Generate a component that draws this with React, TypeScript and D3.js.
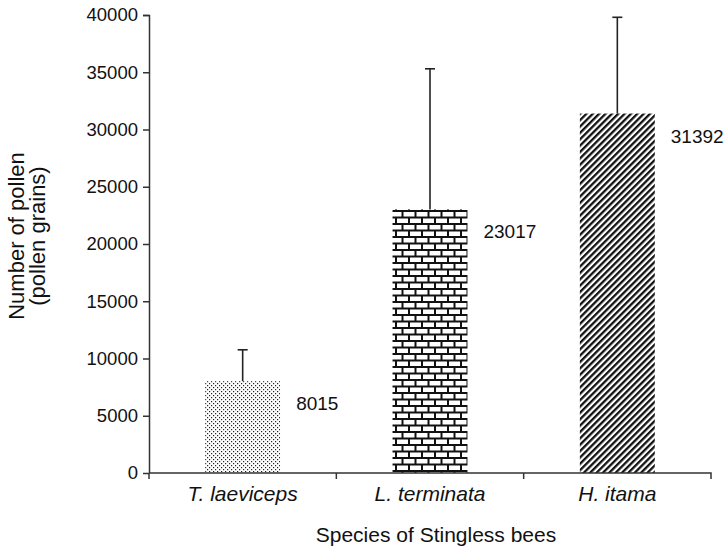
import React, { useEffect, useRef } from "react";
import * as d3 from "d3";

const species = ["T. laeviceps", "L. terminata", "H. itama"];
const pollenMeans = [8015, 23017, 31392];
const pollenUpper = [10760, 35300, 39800];
const patternIds = ["dots", "bricks", "stripes"];
const yTicks = [0, 5000, 10000, 15000, 20000, 25000, 30000, 35000, 40000];

const App: React.FC = () => {
  const svgRef = useRef<SVGSVGElement>(null);

  useEffect(() => {
    if (!svgRef.current) return;
    const W = 726;
    const H = 548;
    const margin = { top: 15, right: 15, bottom: 75, left: 149 };
    const width = W - margin.left - margin.right;
    const height = H - margin.top - margin.bottom;

    const root = d3.select(svgRef.current).attr("width", W).attr("height", H);
    root.selectAll("*").remove();

    // fill patterns
    const defs = root.append("defs");
    const dots = defs
      .append("pattern")
      .attr("id", "dots")
      .attr("patternUnits", "userSpaceOnUse")
      .attr("width", 4)
      .attr("height", 4);
    dots.append("rect").attr("width", 4).attr("height", 4).attr("fill", "#fff");
    dots.append("rect").attr("x", 0).attr("y", 0).attr("width", 1.2).attr("height", 1.2).attr("fill", "#222");
    dots.append("rect").attr("x", 2).attr("y", 2).attr("width", 1.2).attr("height", 1.2).attr("fill", "#222");

    const bricks = defs
      .append("pattern")
      .attr("id", "bricks")
      .attr("patternUnits", "userSpaceOnUse")
      .attr("width", 13)
      .attr("height", 13);
    bricks.append("rect").attr("width", 13).attr("height", 13).attr("fill", "#fff");
    bricks
      .append("path")
      .attr("d", "M0,1 H13 M0,7.5 H13 M6.5,1 V7.5 M0,7.5 V13 M13,7.5 V13")
      .attr("stroke", "#111")
      .attr("stroke-width", 2)
      .attr("fill", "none");

    const stripes = defs
      .append("pattern")
      .attr("id", "stripes")
      .attr("patternUnits", "userSpaceOnUse")
      .attr("width", 4.5)
      .attr("height", 4.5)
      .attr("patternTransform", "rotate(45)");
    stripes.append("rect").attr("width", 4.5).attr("height", 4.5).attr("fill", "#fff");
    stripes.append("rect").attr("x", 0).attr("y", 0).attr("width", 2.3).attr("height", 4.5).attr("fill", "#111");

    const svg = root.append("g").attr("transform", `translate(${margin.left},${margin.top})`);

    const x = d3.scaleBand().domain(species).range([0, width]).paddingInner(0).paddingOuter(0);
    const y = d3.scaleLinear().domain([0, 40000]).range([height, 0]);
    const barW = x.bandwidth() * 0.4;

    const font = "'Liberation Sans', Arial, sans-serif";

    // bars
    svg
      .selectAll("rect.bar")
      .data(species)
      .enter()
      .append("rect")
      .attr("class", "bar")
      .attr("x", (d) => (x(d) || 0) + x.bandwidth() / 2 - barW / 2)
      .attr("y", (d, i) => y(pollenMeans[i]))
      .attr("width", barW)
      .attr("height", (d, i) => height - y(pollenMeans[i]))
      .attr("fill", (d, i) => `url(#${patternIds[i]})`);

    // error bars
    const err = svg.append("g").attr("stroke", "#222").attr("stroke-width", 1.6);
    species.forEach((d, i) => {
      const cx = (x(d) || 0) + x.bandwidth() / 2;
      err.append("line").attr("x1", cx).attr("x2", cx).attr("y1", y(pollenMeans[i])).attr("y2", y(pollenUpper[i]));
      err.append("line").attr("x1", cx - 5).attr("x2", cx + 5).attr("y1", y(pollenUpper[i])).attr("y2", y(pollenUpper[i]));
    });

    // value labels
    svg
      .selectAll("text.val")
      .data(species)
      .enter()
      .append("text")
      .attr("class", "val")
      .attr("x", (d) => (x(d) || 0) + x.bandwidth() / 2 + barW / 2 + 16)
      .attr("y", (d, i) => y(pollenMeans[i]) + 29)
      .attr("font-family", font)
      .attr("font-size", 19)
      .attr("fill", "#111")
      .text((d, i) => String(pollenMeans[i]));

    // y axis
    const yAxis = svg
      .append("g")
      .call(d3.axisLeft(y).tickValues(yTicks).tickSize(6).tickPadding(5).tickFormat((v) => String(v)));
    yAxis.select(".domain").attr("d", `M-6,0.5H0.5V${height}`);
    yAxis.selectAll("text").attr("font-family", font).attr("font-size", 18.5).attr("fill", "#111");
    yAxis.selectAll("line, path").attr("stroke", "#333").attr("stroke-width", 1.5);

    // x axis
    const xAxis = svg
      .append("g")
      .attr("transform", `translate(0,${height})`)
      .call(d3.axisBottom(x).tickSize(0).tickPadding(13));
    xAxis.select(".domain").attr("d", `M0,0H${width}V6`);
    xAxis.selectAll("text").attr("font-family", font).attr("font-size", 21).attr("font-style", "italic").attr("fill", "#111");
    xAxis.selectAll("path").attr("stroke", "#333").attr("stroke-width", 1.5);
    xAxis
      .selectAll("line.sep")
      .data(species)
      .enter()
      .append("line")
      .attr("class", "sep")
      .attr("x1", (d) => x(d) || 0)
      .attr("x2", (d) => x(d) || 0)
      .attr("y1", 0)
      .attr("y2", 6)
      .attr("stroke", "#333")
      .attr("stroke-width", 1.5);

    // axis titles
    root
      .append("text")
      .attr("x", 436)
      .attr("y", 542)
      .attr("text-anchor", "middle")
      .attr("font-family", font)
      .attr("font-size", 21)
      .attr("fill", "#111")
      .text("Species of Stingless bees");

    const yTitle = root
      .append("text")
      .attr("transform", `translate(0,236) rotate(-90)`)
      .attr("text-anchor", "middle")
      .attr("font-family", font)
      .attr("font-size", 22)
      .attr("fill", "#111");
    yTitle.append("tspan").attr("x", 0).attr("y", 24).text("Number of pollen");
    yTitle.append("tspan").attr("x", 0).attr("y", 45).text("(pollen grains)");
  }, []);

  return <svg ref={svgRef} style={{ position: "absolute", left: 0, top: 0 }}></svg>;
};

export default App;
